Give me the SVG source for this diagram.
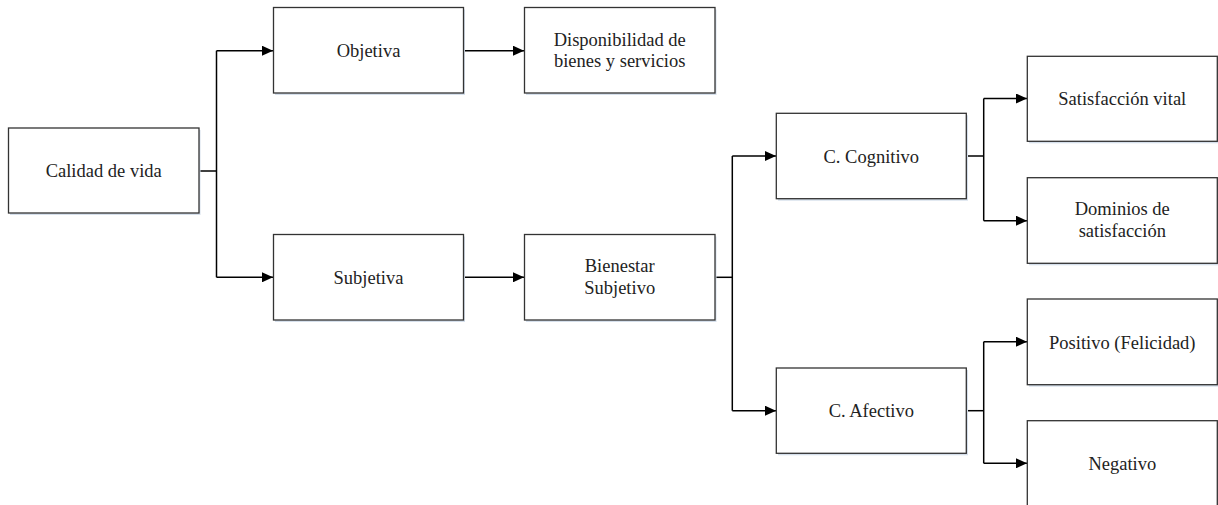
<svg xmlns="http://www.w3.org/2000/svg" width="1218" height="505" viewBox="0 0 1218 505">
<style>
.box{fill:#fff;stroke:#333;stroke-width:1.3}
.sh{fill:#d6e0ec}
.t{font-family:'Liberation Serif','DejaVu Serif',serif;font-size:18.5px;fill:#222;text-anchor:middle}
.c{fill:none;stroke:#000;stroke-width:1.5}
</style>
<defs>
<marker id="ah" markerWidth="11" markerHeight="10" refX="11" refY="5" orient="auto" markerUnits="userSpaceOnUse">
<path d="M0,0 L11,5 L0,10 Z" fill="#000"/>
</marker>
</defs>
<rect width="1218" height="505" fill="#fff"/>
<g id="connectors">
<path class="c" d="M199,171 H216.5"/>
<path class="c" d="M216.5,50.7 V277.3"/>
<path class="c" d="M216.5,50.7 H273" marker-end="url(#ah)"/>
<path class="c" d="M216.5,277.3 H273" marker-end="url(#ah)"/>
<path class="c" d="M463.5,50.7 H524" marker-end="url(#ah)"/>
<path class="c" d="M463.5,277.3 H524" marker-end="url(#ah)"/>
<path class="c" d="M715,277.3 H732.3"/>
<path class="c" d="M732.3,156 V410.7"/>
<path class="c" d="M732.3,156 H776" marker-end="url(#ah)"/>
<path class="c" d="M732.3,410.7 H776" marker-end="url(#ah)"/>
<path class="c" d="M966.3,156 H983.7"/>
<path class="c" d="M983.7,98.5 V220.7"/>
<path class="c" d="M983.7,98.5 H1027" marker-end="url(#ah)"/>
<path class="c" d="M983.7,220.7 H1027" marker-end="url(#ah)"/>
<path class="c" d="M966.3,410.7 H983.7"/>
<path class="c" d="M983.7,341.7 V463.3"/>
<path class="c" d="M983.7,341.7 H1027" marker-end="url(#ah)"/>
<path class="c" d="M983.7,463.3 H1027" marker-end="url(#ah)"/>
</g>
<g id="calidad">
<rect class="sh" x="10" y="130" width="190.5" height="85"/>
<rect class="box" x="8.5" y="128" width="190.5" height="85"/>
<text class="t" x="103.7" y="177">Calidad de vida</text>
</g>
<g id="objetiva">
<rect class="sh" x="275" y="9.5" width="190" height="85.5"/>
<rect class="box" x="273.5" y="7.5" width="190" height="85.5"/>
<text class="t" x="368.5" y="57">Objetiva</text>
</g>
<g id="subjetiva">
<rect class="sh" x="275" y="236.5" width="190" height="85.5"/>
<rect class="box" x="273.5" y="234.5" width="190" height="85.5"/>
<text class="t" x="368.5" y="284">Subjetiva</text>
</g>
<g id="disponibilidad">
<rect class="sh" x="526" y="9.5" width="190.5" height="85.5"/>
<rect class="box" x="524.5" y="7.5" width="190.5" height="85.5"/>
<text class="t" x="619.7" y="45.5">Disponibilidad de</text>
<text class="t" x="619.7" y="67">bienes y servicios</text>
</g>
<g id="bienestar">
<rect class="sh" x="526" y="236.5" width="190.5" height="85.5"/>
<rect class="box" x="524.5" y="234.5" width="190.5" height="85.5"/>
<text class="t" x="619.7" y="272">Bienestar</text>
<text class="t" x="619.7" y="294">Subjetivo</text>
</g>
<g id="cognitivo">
<rect class="sh" x="778" y="115.3" width="190" height="85.4"/>
<rect class="box" x="776.3" y="113.3" width="190" height="85.4"/>
<text class="t" x="871.3" y="162.5">C. Cognitivo</text>
</g>
<g id="afectivo">
<rect class="sh" x="778" y="370" width="190" height="85.3"/>
<rect class="box" x="776.3" y="368" width="190" height="85.3"/>
<text class="t" x="871.3" y="417">C. Afectivo</text>
</g>
<g id="satisfaccion">
<rect class="sh" x="1029" y="58.3" width="190" height="85"/>
<rect class="box" x="1027.3" y="56.3" width="190" height="85"/>
<text class="t" x="1122.3" y="105">Satisfacción vital</text>
</g>
<g id="dominios">
<rect class="sh" x="1029" y="179.7" width="190" height="85.6"/>
<rect class="box" x="1027.3" y="177.7" width="190" height="85.6"/>
<text class="t" x="1122.3" y="215">Dominios de</text>
<text class="t" x="1122.3" y="237.3">satisfacción</text>
</g>
<g id="positivo">
<rect class="sh" x="1029" y="301" width="190" height="85.7"/>
<rect class="box" x="1027.3" y="299" width="190" height="85.7"/>
<text class="t" x="1122.3" y="348.5">Positivo (Felicidad)</text>
</g>
<g id="negativo">
<rect class="sh" x="1029" y="422.7" width="190" height="86"/>
<rect class="box" x="1027.3" y="420.7" width="190" height="86"/>
<text class="t" x="1122.3" y="470">Negativo</text>
</g>
</svg>
